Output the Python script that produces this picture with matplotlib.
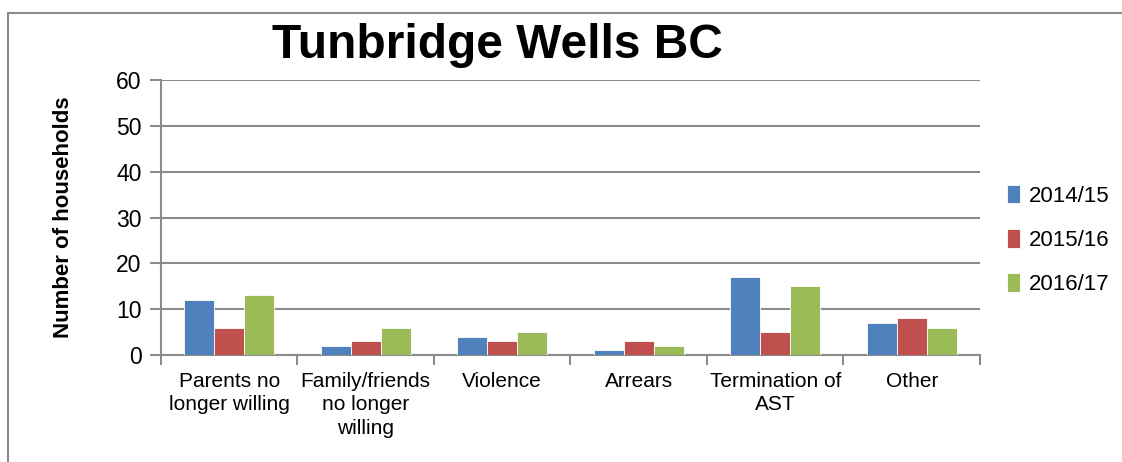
import numpy as np
import matplotlib.pyplot as plt
from matplotlib.patches import Rectangle

plt.rcParams['font.family'] = ['Liberation Sans', 'DejaVu Sans']

categories = ['Parents no\nlonger willing', 'Family/friends\nno longer\nwilling', 'Violence',
              'Arrears', 'Termination of\nAST', 'Other']
series_names = ['2014/15', '2015/16', '2016/17']
vals_1415 = [12, 2, 4, 1, 17, 7]
vals_1516 = [6, 3, 3, 3, 5, 8]
vals_1617 = [13, 6, 5, 2, 15, 6]
colors = ['#4f81bd', '#c0504d', '#9bbb59']

fig = plt.figure(figsize=(11.22, 4.62), dpi=100)
ax = fig.add_axes([0.1435, 0.2316, 0.8734 - 0.1435, 0.8268 - 0.2316])

# outer chart border
fig.patches.append(Rectangle((8 / 1122, -0.1), 1.2, (462 - 13) / 462 + 0.1, transform=fig.transFigure,
                             fill=False, edgecolor='#8c8c8c', linewidth=1.5))

x = np.arange(len(categories))
w = 0.22
for i, (vals, name) in enumerate(zip([vals_1415, vals_1516, vals_1617], series_names)):
    ax.bar(x + (i - 1) * w, vals, width=w, color=colors[i], label=name,
           edgecolor='white', linewidth=0.6, zorder=3)

ax.set_xlim(-0.5, len(categories) - 0.5)
ax.set_ylim(0, 60)
ax.set_yticks(range(0, 61, 10))
ax.yaxis.grid(True, color='#8c8c8c', linewidth=1.5, zorder=0)
ax.set_axisbelow(True)
for s in ['top', 'right']:
    ax.spines[s].set_visible(False)
for s in ['left', 'bottom']:
    ax.spines[s].set_color('#8c8c8c')
    ax.spines[s].set_linewidth(1.5)

ax.set_xticks(np.arange(-0.5, len(categories), 1.0))
ax.set_xticklabels([])
ax.set_xticks(x, minor=True)
ax.set_xticklabels(categories, minor=True, fontsize=15, va='top', linespacing=1.3)
ax.tick_params(axis='x', which='major', length=7, width=1.5, color='#8c8c8c')
ax.tick_params(axis='x', which='minor', length=0, pad=12)
ax.tick_params(axis='y', length=8, width=1.5, color='#8c8c8c', labelsize=16.5, pad=6)

ax.set_ylabel('Number of households', fontsize=16, fontweight='bold', labelpad=30)
fig.text(497 / 1122, 1 - 46 / 462, 'Tunbridge Wells BC', ha='center', va='center',
         fontsize=34.5, fontweight='bold')

ax.legend(loc='center left', bbox_to_anchor=(1.0, 0.418), frameon=False, fontsize=16,
          handlelength=0.6, handleheight=0.9, handletextpad=0.4, labelspacing=1.0,
          borderaxespad=0.8)

fig.savefig('out.png', dpi=100)
